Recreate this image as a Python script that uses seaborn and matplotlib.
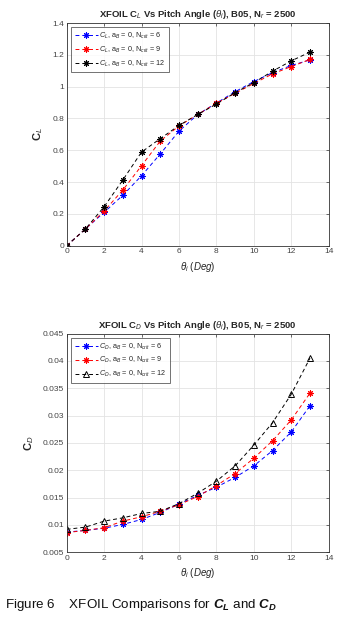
import numpy as np
import pandas as pd
import matplotlib
matplotlib.use("Agg")
import matplotlib.pyplot as plt
import seaborn as sns

sns.set_style("whitegrid")
plt.rcParams['font.family'] = ['Liberation Sans', 'DejaVu Sans']
plt.rcParams['mathtext.fontset'] = 'custom'
plt.rcParams['mathtext.rm'] = 'Liberation Sans'
plt.rcParams['mathtext.it'] = 'Liberation Sans:italic'
plt.rcParams['mathtext.bf'] = 'Liberation Sans:bold:italic'

theta = [0, 1, 2, 3, 4, 5, 6, 7, 8, 9, 10, 11, 12, 13]

cl_n6 = [0.0, 0.105, 0.21, 0.317, 0.44, 0.577, 0.72, 0.825, 0.897, 0.968, 1.032, 1.088, 1.133, 1.168]
cl_n9 = [0.0, 0.105, 0.218, 0.35, 0.503, 0.658, 0.753, 0.825, 0.895, 0.958, 1.02, 1.08, 1.126, 1.171]
cl_n12 = [0.0, 0.105, 0.245, 0.413, 0.589, 0.673, 0.756, 0.825, 0.89, 0.962, 1.025, 1.097, 1.162, 1.217]

cd_n6 = [0.0087, 0.0090, 0.0094, 0.0101, 0.0110, 0.0123, 0.0138, 0.0154, 0.0169, 0.0187, 0.0208, 0.0236, 0.0270, 0.0318]
cd_n9 = [0.0086, 0.0090, 0.0095, 0.0107, 0.0115, 0.0125, 0.0137, 0.0152, 0.0172, 0.0194, 0.0222, 0.0254, 0.0292, 0.0341]
cd_n12 = [0.0092, 0.0096, 0.0107, 0.0113, 0.0121, 0.0125, 0.0139, 0.0158, 0.0180, 0.0208, 0.0246, 0.0287, 0.0339, 0.0405]

ncrit = ["6", "9", "12"]
colors = ["#0000ff", "#ff0000", "#000000"]
ast = (8, 2, 0)

fig = plt.figure(figsize=(3.46, 6.23), dpi=100)
ax1 = fig.add_axes([66.7/346, 1-245.7/623, (328.7-66.7)/346, (245.7-23)/623])
ax2 = fig.add_axes([66.7/346, 1-552.3/623, (328.7-66.7)/346, (552.3-333.5)/623])

def style_axes(ax):
    ax.set_facecolor("white")
    ax.grid(True, color="#e3e3e3", linewidth=0.6)
    for s in ax.spines.values():
        s.set_color("#333333")
        s.set_linewidth(0.6)
    ax.tick_params(direction="in", length=2.5, width=0.5, labelsize=6, colors="#333333",
                   top=True, right=True, pad=2, labelcolor="#444444")
    ax.set_xlim(0, 14)
    ax.set_xticks(range(0, 15, 2))

series_cl = [cl_n6, cl_n9, cl_n12]
for vals, c, n in zip(series_cl, colors, ncrit):
    sns.lineplot(x=theta, y=vals, ax=ax1, color=c, linestyle=(0, (4, 3)), linewidth=0.7,
                 marker=ast, markersize=4.5, markeredgewidth=0.75, markeredgecolor=c,
                 label=r"$C_L$, a$_B$ = 0, N$_{crit}$ = " + n, sort=False)
style_axes(ax1)
ax1.set_ylim(0, 1.4)
ax1.set_yticks([0, 0.2, 0.4, 0.6, 0.8, 1.0, 1.2, 1.4])
ax1.set_yticklabels(["0", "0.2", "0.4", "0.6", "0.8", "1", "1.2", "1.4"])
ax1.set_title(r"XFOIL C$_L$ Vs Pitch Angle ($\theta_i$), B05, N$_r$ = 2500",
              fontsize=6.8, fontweight="bold", pad=4)
ax1.set_xlabel(r"$\theta_i$ $(Deg)$", fontsize=7, labelpad=3)
ax1.set_ylabel(r"C$_L$", fontsize=8, fontweight="bold", labelpad=5)
leg1 = ax1.legend(loc="upper left", fontsize=5.2, frameon=True, fancybox=False,
                  edgecolor="#333333", handlelength=3.2, borderaxespad=0.6,
                  labelspacing=0.5, handletextpad=0.2, borderpad=0.5)
leg1.get_frame().set_linewidth(0.6)

series_cd = [cd_n6, cd_n9, cd_n12]
markers_cd = [ast, ast, "^"]
for vals, c, n, m in zip(series_cd, colors, ncrit, markers_cd):
    kw = dict(markerfacecolor="none") if m == "^" else {}
    sns.lineplot(x=theta, y=vals, ax=ax2, color=c, linestyle=(0, (4, 3)), linewidth=0.7,
                 marker=m, markersize=4.8 if m == "^" else 4.5,
                 markeredgewidth=0.7 if m == "^" else 0.75,
                 markeredgecolor=c, label=r"$C_D$, a$_B$ = 0, N$_{crit}$ = " + n,
                 sort=False, **kw)
style_axes(ax2)
ax2.set_ylim(0.005, 0.045)
ax2.set_yticks([0.005, 0.01, 0.015, 0.02, 0.025, 0.03, 0.035, 0.04, 0.045])
ax2.set_yticklabels(["0.005", "0.01", "0.015", "0.02", "0.025", "0.03", "0.035", "0.04", "0.045"])
ax2.set_title(r"XFOIL C$_D$ Vs Pitch Angle ($\theta_i$), B05, N$_r$ = 2500",
              fontsize=6.8, fontweight="bold", pad=4)
ax2.set_xlabel(r"$\theta_i$ $(Deg)$", fontsize=7, labelpad=3)
ax2.set_ylabel(r"C$_D$", fontsize=8, fontweight="bold", labelpad=5)
leg2 = ax2.legend(loc="upper left", fontsize=5.2, frameon=True, fancybox=False,
                  edgecolor="#333333", handlelength=3.2, borderaxespad=0.6,
                  labelspacing=0.5, handletextpad=0.2, borderpad=0.5)
leg2.get_frame().set_linewidth(0.6)

fig.text(5/346, 1-605/623, r"Figure 6    XFOIL Comparisons for $\mathbf{C_L}$ and $\mathbf{C_D}$",
         fontsize=9.6, va="center", ha="left", color="#111111")

fig.savefig("out.png", dpi=100, facecolor="white")
